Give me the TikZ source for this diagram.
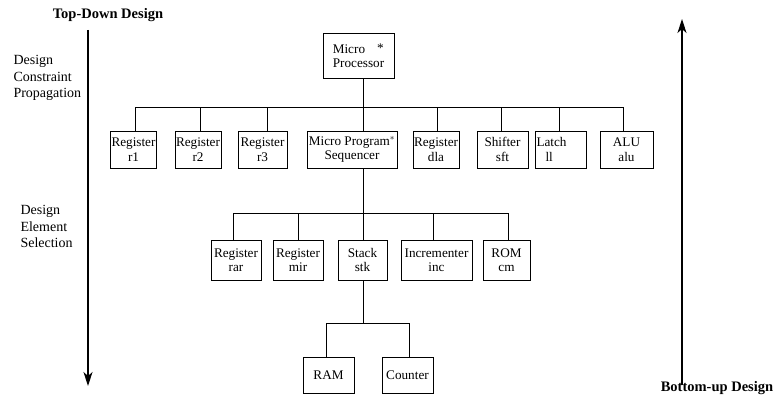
\documentclass[tikz,border=0pt]{standalone}
\usepackage{fontspec}
\setmainfont{Liberation Serif}
\usetikzlibrary{arrows.meta}
\begin{document}
\begin{tikzpicture}[x=1pt,y=-1pt,
  box/.style={draw,line width=0.9pt,inner sep=1pt,align=center,
    font=\fontsize{13.2}{14.5}\selectfont},
  conn/.style={line width=0.9pt},
  side/.style={align=left,font=\fontsize{14}{16.5}\selectfont,anchor=north west},
  title/.style={font=\fontsize{14.5}{16}\selectfont\bfseries},
  bigarrow/.style={line width=1.1pt,-{Stealth[length=14pt,width=9pt,inset=4pt]}}]
\useasboundingbox (0,0) rectangle (773,403);

% titles and side labels
\node[title] (td) at (108,15) {Top-Down Design};
\node[title] (bu) at (717,388) {Bottom-up Design};
\node[side] (dcp) at (10,52) {Design\\Constraint\\Propagation};
\node[side] (des) at (17,202) {Design\\Element\\Selection};

% big arrows
\coordinate (la1) at (88,30);
\coordinate (la2) at (88,386);
\draw[bigarrow] (la1) -- (la2);
\coordinate (ra1) at (682,385);
\coordinate (ra2) at (682,19);
\draw[bigarrow] (ra1) -- (ra2);

% root
\node[box,minimum width=71pt,minimum height=45pt,align=left] (mp) at (358.5,55.5)
  {\makebox[51pt][l]{Micro\hfill\raisebox{1pt}{*}}\\Processor};

% level 1
\node[box,minimum width=43pt,minimum height=37pt] (r1) at (133.5,149.5) {Register\\r1};
\node[box,minimum width=44pt,minimum height=37pt] (r2) at (198,149.5) {Register\\r2};
\node[box,minimum width=49pt,minimum height=37pt] (r3) at (262.5,149.5) {Register\\r3};
\node[box,minimum width=90pt,minimum height=37pt] (mps) at (352,149.5) {Micro Program$^{*}$\\Sequencer};
\node[box,minimum width=46pt,minimum height=37pt] (dla) at (436,149.5) {Register\\dla};
\node[box,minimum width=51pt,minimum height=37pt] (sft) at (502.5,149.5) {Shifter\\sft};
\node[box,minimum width=51pt,minimum height=37pt,align=left,text width=48pt] (l1) at (560.5,149.5) {Latch\\\hspace*{9pt}ll};
\node[box,minimum width=53pt,minimum height=37pt] (alu) at (626.5,149.5) {ALU\\alu};

\coordinate (b1) at (363,107);
\draw[conn] (mp.south -| b1) -- (b1);
\draw[conn] (b1) -| ([xshift=1.5pt]r1.north);
\draw[conn] (b1) -| ([xshift=2pt]r2.north);
\draw[conn] (b1) -| ([xshift=4.5pt]r3.north);
\draw[conn] (b1) -| ([xshift=11pt]mps.north);
\draw[conn] (b1) -| ([xshift=1pt]dla.north);
\draw[conn] (b1) -| ([xshift=-1.5pt]sft.north);
\draw[conn] (b1) -| ([xshift=-1.5pt]l1.north);
\draw[conn] (b1) -| ([xshift=-3.5pt]alu.north);

% level 2
\node[box,minimum width=50pt,minimum height=40pt] (rar) at (236,260) {Register\\rar};
\node[box,minimum width=50pt,minimum height=40pt] (mir) at (298,260) {Register\\mir};
\node[box,minimum width=49pt,minimum height=40pt] (stk) at (362.5,260) {Stack\\stk};
\node[box,minimum width=71pt,minimum height=40pt] (inc) at (436.5,260) {Incrementer\\inc};
\node[box,minimum width=47pt,minimum height=40pt] (rom) at (506.5,260) {ROM\\cm};

\coordinate (b2) at (363,213);
\draw[conn] ([xshift=11pt]mps.south) -- (b2);
\draw[conn] (b2) -| ([xshift=-3pt]rar.north);
\draw[conn] (b2) -| (mir.north);
\draw[conn] (b2) -| ([xshift=0.5pt]stk.north);
\draw[conn] (b2) -| ([xshift=-3.5pt]inc.north);
\draw[conn] (b2) -| ([xshift=1.5pt]rom.north);

% level 3
\node[box,minimum width=51pt,minimum height=36pt] (ram) at (328.5,375) {RAM};
\node[box,minimum width=51pt,minimum height=36pt] (cnt) at (407.5,375) {Counter};

\coordinate (b3) at (363,323);
\draw[conn] ([xshift=0.5pt]stk.south) -- (b3);
\draw[conn] (b3) -| ([xshift=-2.5pt]ram.north);
\draw[conn] (b3) -| ([xshift=1.5pt]cnt.north);
\end{tikzpicture}
\end{document}
